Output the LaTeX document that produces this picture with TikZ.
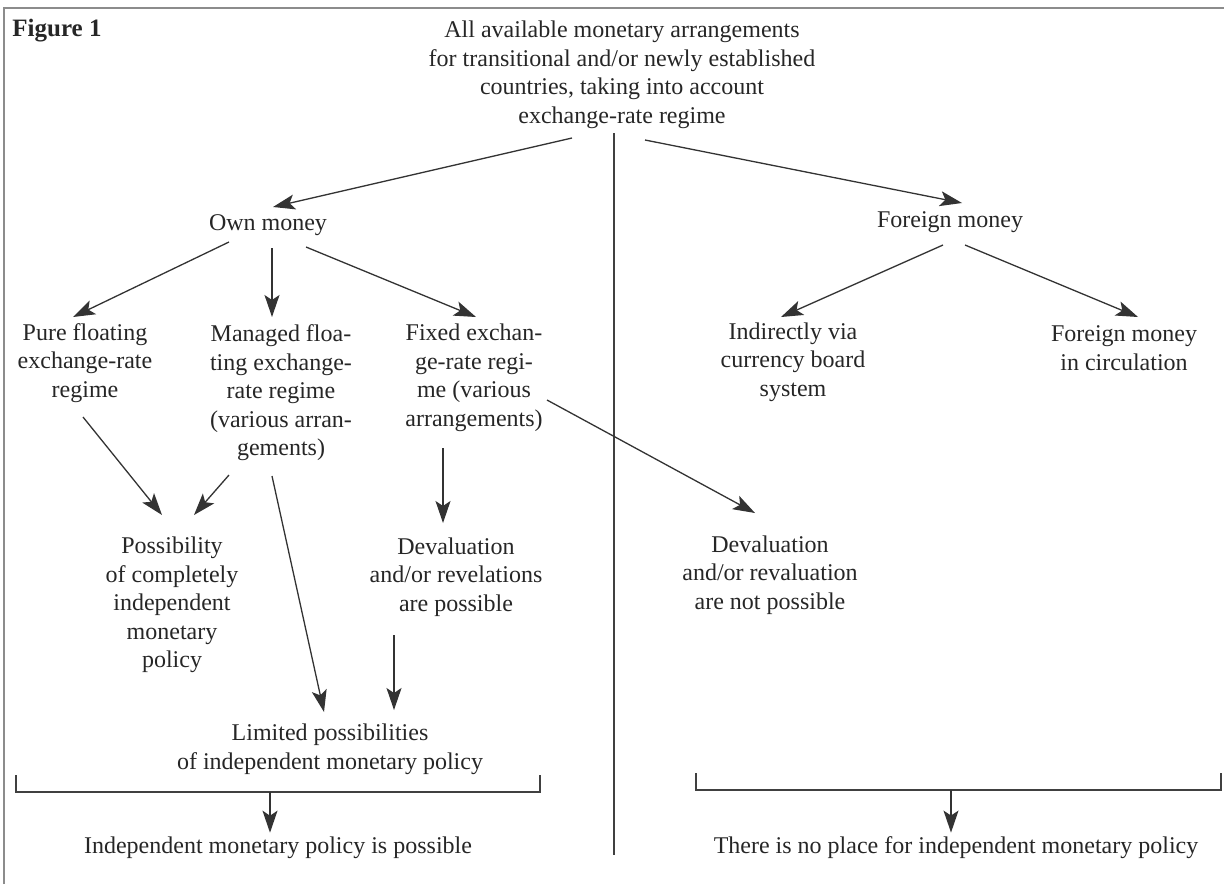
\documentclass[tikz,border=0pt]{standalone}
\usepackage{fontspec}
\setmainfont{Liberation Serif}
\usetikzlibrary{arrows.meta, calc}

\begin{document}
\begin{tikzpicture}[
    x=0.5pt, y=-0.5pt,
    box/.style={align=center, inner sep=2pt, text=black!85, font=\fontsize{12}{14.25}\selectfont},
    arr/.style={->, line width=0.65pt, draw=black!80},
    frame/.style={line width=1.2pt, draw=black!45},
    brace/.style={line width=0.8pt, draw=black!75},
    >={Stealth[length=11pt, width=7.5pt, inset=2.5pt]}
]
    \useasboundingbox (0,0) rectangle (1224,884);
    \draw[frame] (4,884) -- (4,8) -- (1224,8);

    \node[box, font=\fontsize{12.5}{14.25}\selectfont\bfseries, anchor=west] (fig) at (8,31) {Figure 1};
    \node[box] (top) at (622,75) {All available monetary arrangements\\for transitional and/or newly established\\countries, taking into account\\exchange-rate regime};

    \node[box] (own) at (268,225) {Own money};
    \node[box] (foreign) at (950,222) {Foreign money};

    \node[box] (pure) at (85,363) {Pure floating\\exchange-rate\\regime};
    \node[box] (managed) at (281,393) {Managed floa-\\ting exchange-\\rate regime\\(various arran-\\gements)};
    \node[box] (fixed) at (474,378) {Fixed exchan-\\ge-rate regi-\\me (various\\arrangements)};
    \node[box] (indirect) at (793,362) {Indirectly via\\currency board\\system};
    \node[box] (circ) at (1124,348) {Foreign money\\in circulation};

    \node[box] (possib) at (172,605) {Possibility\\of completely\\independent\\monetary\\policy};
    \node[box] (devyes) at (456,577) {Devaluation\\and/or revelations\\are possible};
    \node[box] (devno) at (770,575) {Devaluation\\and/or revaluation\\are not possible};
    \node[box] (limited) at (330,749) {Limited possibilities\\of independent monetary policy};

    \node[box] (indep) at (278,848) {Independent monetary policy is possible};
    \node[box] (noplace) at (956,848) {There is no place for independent monetary policy};

    \coordinate (divtop) at (614,133);
    \coordinate (divbot) at (614,855);
    \draw[brace] (divtop) -- (divbot);

    \draw[arr] ($(top)+(-50,63)$) -- ($(own)+(5,-18)$);
    \draw[arr] ($(top)+(23,65)$) -- ($(foreign)+(12,-19)$);
    \draw[arr] ($(own)+(-39,17)$) -- ($(pure)+(-12,-46)$);
    \draw[arr] ($(own)+(4,23)$) -- ($(managed)+(-9,-76)$);
    \draw[arr] ($(own)+(38,22)$) -- ($(fixed)+(2,-61)$);
    \draw[arr] ($(foreign)+(-7,23)$) -- ($(indirect)+(-12,-45)$);
    \draw[arr] ($(foreign)+(15,23)$) -- ($(circ)+(14,-31)$);
    \draw[arr] ($(pure)+(-2,54)$) -- ($(possib)+(-10,-90)$);
    \draw[arr] ($(managed)+(-52,82)$) -- ($(possib)+(22,-90)$);
    \draw[arr] ($(managed)+(-9,83)$) -- ($(limited)+(-6,-37)$);
    \draw[arr] ($(fixed)+(-31,70)$) -- ($(devyes)+(-13,-54)$);
    \draw[arr] ($(fixed)+(73,22)$) -- ($(devno)+(-15,-62)$);
    \draw[arr] ($(devyes)+(-62,58)$) -- ($(limited)+(64,-39)$);

    \coordinate (lbrk) at (270,792);
    \coordinate (rbrk) at (951,790);
    \draw[brace] (16,775) -- (16,792) -- (540,792) -- (540,775);
    \draw[brace] (696,773) -- (696,790) -- (1221,790) -- (1221,773);
    \draw[arr] (lbrk) -- (lbrk |- indep.north);
    \draw[arr] (rbrk) -- (rbrk |- noplace.north);
\end{tikzpicture}
\end{document}
